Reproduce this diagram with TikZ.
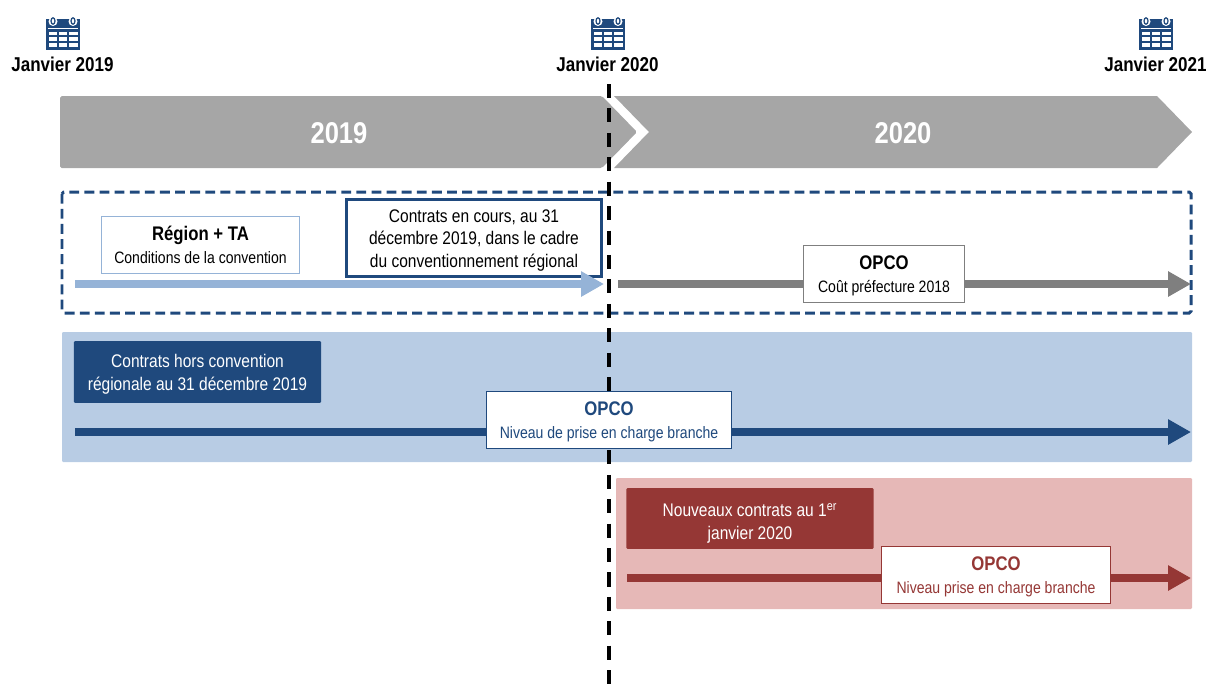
\documentclass[tikz,border=0pt]{standalone}
\usepackage{fontspec}
\setmainfont[FakeStretch=0.85]{Liberation Sans}
\usetikzlibrary{arrows.meta}
\definecolor{bleuF}{HTML}{1F497D}
\definecolor{bleuC}{HTML}{95B3D7}
\definecolor{bleuP}{HTML}{B8CCE4}
\definecolor{rougeF}{HTML}{953735}
\definecolor{rougeP}{HTML}{E6B8B7}
\definecolor{grisB}{HTML}{A6A6A6}
\definecolor{grisF}{HTML}{7F7F7F}
\newcommand{\titre}[2]{{\fontsize{11.2}{13}\selectfont\bfseries\rule{0pt}{10.3pt}#1}\\{\fontsize{9.4}{12}\selectfont\rule[-2.2pt]{0pt}{2.2pt}#2}}
\tikzset{
    boite/.style={draw,fill=white,line width=0.6pt,align=center,inner sep=0pt,font=\fontsize{10.4}{13}\selectfont},
    pleine/.style={rounded corners=0.6pt,align=center,inner sep=0pt,text=white,font=\fontsize{10.4}{13}\selectfont},
    fleche/.style={line width=4.5pt,-{Triangle[length=13pt,width=13.6pt]}},
    dateL/.style={font=\fontsize{11.4}{13}\selectfont\bfseries},
    annee/.style={text=white,font=\fontsize{17.1}{20}\selectfont\bfseries},
    calicon/.pic={
        \fill[bleuF] (-17,-14) rectangle (17,17);
        \fill[white] (-15,-4.6) rectangle (15,-4);
        \foreach \s in {-10,10}{
            \fill[white] (\s,-11.5) ellipse (4.5 and 4.5);
            \draw[bleuF,fill=white,line width=0.7pt] (\s,-12) ellipse (2 and 3.2);
        }
        \foreach \i in {0,1,2}\foreach \j in {0,1,2}
            \fill[white] (-14.4+\i*10.4,-1.3+\j*5.6) rectangle (-6.2+\i*10.4,2.3+\j*5.6);
    }
}
\begin{document}
\begin{tikzpicture}[x=0.02cm,y=-0.02cm,line join=miter]
    \useasboundingbox (0,0) rectangle (1209,684);
    % dates
    \foreach \xc/\nom/\txt in {63/a/2019,608/b/2020,1156/c/2021}{
        \pic at (\xc,33) {calicon};
        \node[dateL] (date\nom) at (\xc-0.5,64) {Janvier \txt};
    }
    % bandeau
    \fill[grisB,rounded corners=1pt] (60,132)--(60,96)--(602,96)--(637,132)--(602,168)--(60,168)--cycle;
    \fill[grisB] (614,96)--(1157,96)--(1192,132)--(1157,168)--(614,168)--(649,132)--cycle;
    \node[annee] (an1) at (339,133) {2019};
    \node[annee] (an2) at (903,133) {2020};
    % cadre pointille
    \draw[bleuF,line width=1.7pt,dash pattern=on 5.6pt off 3pt,rounded corners=1pt] (62,192) rectangle (1191,313);
    % fonds
    \fill[bleuP,rounded corners=0.6pt] (62,332) rectangle (1192,462);
    \fill[rougeP,rounded corners=0.6pt] (616,478) rectangle (1192,609);
    % periode
    \draw[line width=2pt,dash pattern=on 8pt off 5.9pt] (609,84)--(609,684);
    % ligne 1
    \coordinate (r1) at (75,284);
    \coordinate (r2) at (604,284);
    \coordinate (g1) at (618,284);
    \coordinate (g2) at (1191,284);
    \node[boite,draw=bleuC,minimum width=199*0.567pt,minimum height=58*0.567pt] (region) at (200.5,245) {\titre{Région + TA}{Conditions de la convention}};
    \node[boite,draw=bleuF,line width=1.7pt,minimum width=256*0.567pt,minimum height=78*0.567pt] (encours) at (474,238) {\rule{0pt}{10pt}Contrats en cours, au 31\\décembre 2019, dans le cadre\\du conventionnement régional};
    \draw[fleche,bleuC] (r1)--(r2);
    \draw[fleche,grisF] (g1)--(g2);
    \node[boite,draw=grisF,minimum width=162*0.567pt,minimum height=58*0.567pt] (prefet) at (884,274) {\titre{OPCO}{Coût préfecture 2018}};
    % ligne 2
    \coordinate (b1) at (75,432);
    \coordinate (b2) at (1191,432);
    \draw[fleche,bleuF] (b1)--(b2);
    \node[pleine,fill=bleuF,minimum width=248*0.567pt,minimum height=62*0.567pt] (hors) at (197.5,372) {\rule{0pt}{10pt}Contrats hors convention\\régionale au 31 décembre 2019};
    \node[boite,draw=bleuF,text=bleuF,minimum width=246*0.567pt,minimum height=58*0.567pt] (branche) at (609,420) {\titre{OPCO}{Niveau de prise en charge branche}};
    % ligne 3
    \coordinate (v1) at (627,578);
    \coordinate (v2) at (1191,578);
    \draw[fleche,rougeF] (v1)--(v2);
    \node[pleine,fill=rougeF,minimum width=248*0.567pt,minimum height=61*0.567pt] (nouveaux) at (750,518.5) {\rule{0pt}{13pt}Nouveaux contrats au 1\textsuperscript{er}\\janvier 2020};
    \node[boite,draw=rougeF,text=rougeF,minimum width=230*0.567pt,minimum height=58*0.567pt] (niveau) at (996,575) {\titre{OPCO}{Niveau prise en charge branche}};
\end{tikzpicture}
\end{document}
